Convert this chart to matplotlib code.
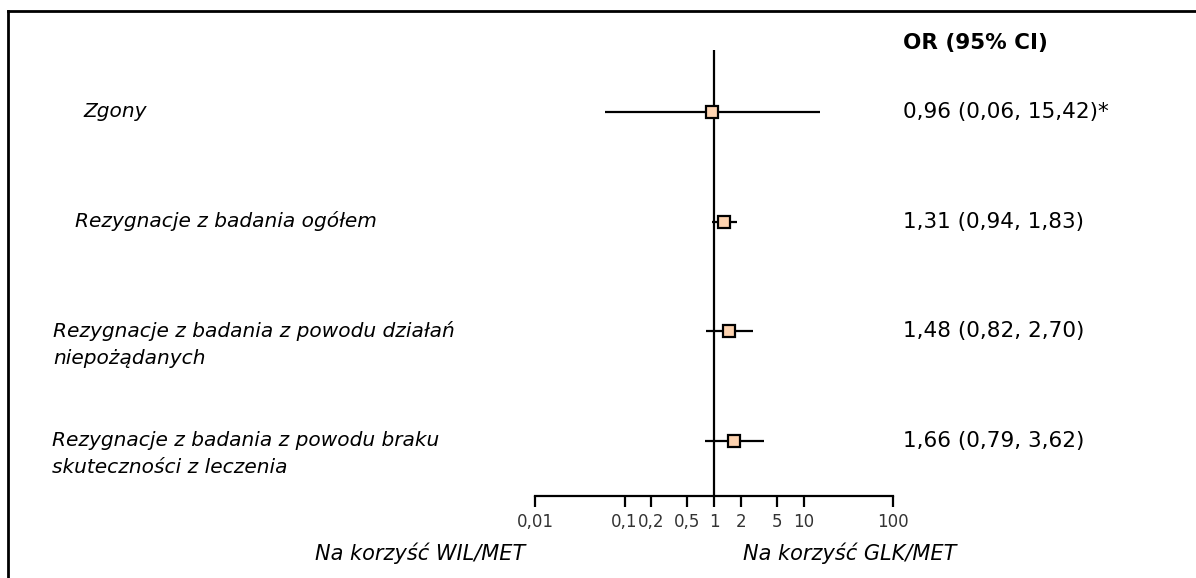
import matplotlib
matplotlib.use("Agg")
import matplotlib.pyplot as plt
from matplotlib.lines import Line2D
from matplotlib.transforms import blended_transform_factory

# Outcomes with odds ratios and 95% confidence intervals
outcomes = [
    "Zgony",
    "Rezygnacje z badania ogółem",
    "Rezygnacje z badania z powodu działań\nniepożądanych",
    "Rezygnacje z badania z powodu braku\nskuteczności z leczenia",
]
odds_ratio = [0.96, 1.31, 1.48, 1.66]
ci_low = [0.06, 0.94, 0.82, 0.79]
ci_high = [15.42, 1.83, 2.70, 3.62]
ci_text = [
    "0,96 (0,06, 15,42)*",
    "1,31 (0,94, 1,83)",
    "1,48 (0,82, 2,70)",
    "1,66 (0,79, 3,62)",
]
label_x = [83, 75, 53, 52]  # left edge of each outcome label, px

tick_values = [0.01, 0.1, 0.2, 0.5, 1, 2, 5, 10, 100]
tick_labels = ["0,01", "0,1", "0,2", "0,5", "1", "2", "5", "10", "100"]

W, H = 1196, 578
fig = plt.figure(figsize=(W / 100, H / 100), dpi=100)

# axes placed in pixel terms: x from 535 to 893, y from 50 to 496
left, right, top, bottom = 535, 893, 50, 496
ax = fig.add_axes([left / W, 1 - bottom / H, (right - left) / W, (bottom - top) / H])
ax.set_xscale("log")
ax.set_xlim(0.01, 100)

row_y0, row_step = 112, 109.7
rows = list(range(len(outcomes)))
ax.set_ylim((bottom - row_y0) / row_step, (top - row_y0) / row_step)

for sp in ["top", "left", "right"]:
    ax.spines[sp].set_visible(False)
ax.spines["bottom"].set_linewidth(1.6)
ax.set_yticks([])
ax.set_xticks(tick_values)
ax.set_xticklabels(tick_labels)
ax.minorticks_off()
ax.tick_params(axis="x", direction="out", length=8, width=1.6, pad=4,
               labelsize=12, labelcolor="#333333")
ax.patch.set_alpha(0)

# line of no effect
ax.axvline(1, color="black", lw=1.6, zorder=2)

# confidence intervals and point estimates
ax.hlines(rows, ci_low, ci_high, color="black", lw=1.6, zorder=3)
ax.plot(odds_ratio, rows, ls="none", marker="s", ms=8.5, mfc="#fdd3b0",
        mec="black", mew=1.6, zorder=4)

# outcome labels on the left, estimates on the right
tr = blended_transform_factory(fig.transFigure, ax.transData)
for r, name, lx, txt in zip(rows, outcomes, label_x, ci_text):
    ax.annotate(name, xy=(lx / W, r), xycoords=tr, xytext=(0, 7.5),
                textcoords="offset points", va="top", ha="left",
                fontsize=14.5, style="italic", linespacing=1.55,
                annotation_clip=False)
    ax.text(903 / W, r, txt, transform=tr, va="center", ha="left", fontsize=15.5)

fig.text(903 / W, 1 - 43 / H, "OR (95% CI)", fontsize=15.5, fontweight="bold",
         va="center", ha="left")

# direction labels under the axis
fig.text(315 / W, 1 - 553 / H, "Na korzyść WIL/MET", fontsize=15,
         style="italic", va="center", ha="left")
fig.text(743 / W, 1 - 553 / H, "Na korzyść GLK/MET", fontsize=15,
         style="italic", va="center", ha="left")

# frame lines along the top and left edge
fig.add_artist(Line2D([8 / W, 1], [1 - 11 / H, 1 - 11 / H], color="black",
                      lw=2, transform=fig.transFigure))
fig.add_artist(Line2D([8 / W, 8 / W], [1 - 11 / H, 0], color="black",
                      lw=2, transform=fig.transFigure))

fig.savefig("out.png", dpi=100)
